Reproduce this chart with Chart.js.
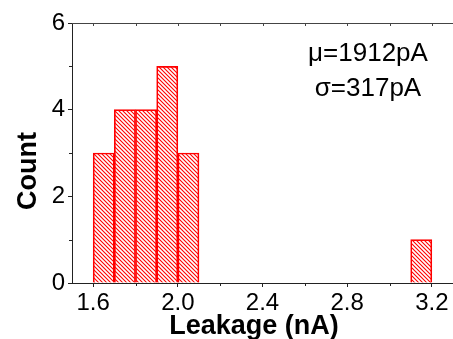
<!DOCTYPE html>
<html>
<head>
<meta charset="utf-8">
<script src="https://cdn.jsdelivr.net/npm/chart.js@4.4.1/dist/chart.umd.min.js"></script>
<style>
  html, body { margin: 0; padding: 0; background: #fff; }
  #wrap { width: 453px; height: 339px; }
</style>
</head>
<body>
<div id="wrap"><canvas id="histChart" width="453" height="339"></canvas></div>
<script>
'use strict';

// Histogram bins (nA) and counts
const binLow = [1.6, 1.7, 1.8, 1.9, 2.0, 3.1];
const binHigh = [1.7, 1.8, 1.9, 2.0, 2.1, 3.2];
const counts = [3, 4, 4, 5, 3, 1];

const xTicks = [1.6, 2.0, 2.4, 2.8, 3.2];
const xMinorTicks = [1.8, 2.2, 2.6, 3.0];
const yTicks = [0, 2, 4, 6];
const yMinorTicks = [1, 3, 5];

const statsLines = ['\u03bc=1912pA', '\u03c3=317pA'];
const xTitle = 'Leakage (nA)';
const yTitle = 'Count';

const FONT = "'Liberation Sans', Arial, sans-serif";

// red diagonal hatch
function makeHatch() {
	const c = document.createElement('canvas');
	c.width = 4;
	c.height = 4;
	const g = c.getContext('2d');
	g.strokeStyle = '#ff0000';
	g.lineWidth = 1.1;
	g.beginPath();
	g.moveTo(-1, -1); g.lineTo(5, 5);
	g.moveTo(-1, 3); g.lineTo(1, 5);
	g.moveTo(3, -1); g.lineTo(5, 1);
	g.stroke();
	return g.createPattern(c, 'repeat');
}

let points = [];
for (let i = 0; i < counts.length; ++i) {
	points.push({ x: (binLow[i] + binHigh[i]) / 2, y: counts[i] });
}

const extras = {
	id: 'extras',
	afterDraw(chart) {
		const ctx = chart.ctx;
		const xs = chart.scales.x;
		const ys = chart.scales.y;
		const top = Math.round(ys.getPixelForValue(6));
		const bottom = Math.round(ys.getPixelForValue(0));
		const left = Math.round(xs.getPixelForValue(1.5));
		ctx.save();
		ctx.fillStyle = '#222';

		// minor ticks
		xMinorTicks.forEach(v => {
			const px = Math.round(xs.getPixelForValue(v));
			ctx.fillRect(px, bottom, 1, 3);
		});
		yMinorTicks.forEach(v => {
			const py = Math.round(ys.getPixelForValue(v));
			ctx.fillRect(left - 3, py, 3, 1);
		});

		// top frame with inward ticks
		ctx.fillStyle = '#444';
		ctx.fillRect(left, top, chart.width - left, 1);
		xTicks.concat(xMinorTicks).forEach(v => {
			const px = Math.round(xs.getPixelForValue(v));
			ctx.fillRect(px, top, 1, 3);
		});

		// stats text
		ctx.fillStyle = '#000';
		ctx.font = '26px ' + FONT;
		ctx.textAlign = 'center';
		ctx.textBaseline = 'alphabetic';
		ctx.fillText(statsLines[0], 368, 61);
		ctx.fillText(statsLines[1], 368, 96);

		// axis titles
		ctx.font = 'bold 27px ' + FONT;
		ctx.fillText(xTitle, 254, 334);
		ctx.translate(36, 171);
		ctx.rotate(-Math.PI / 2);
		ctx.fillText(yTitle, 0, 0);
		ctx.restore();
	}
};

const histChart = new Chart(document.getElementById('histChart'), {
	type: 'bar',
	data: {
		datasets: [
			{
				data: points,
				backgroundColor: makeHatch(),
				borderColor: '#ff0000',
				borderWidth: 1,
				barPercentage: 1,
				categoryPercentage: 1
			}
		]
	},
	options: {
		responsive: false,
		animation: false,
		layout: { padding: { top: 23, right: 0, left: 0, bottom: 0 } },
		plugins: { legend: { display: false }, tooltip: { enabled: false } },
		scales: {
			x: {
				type: 'linear',
				min: 1.5,
				max: 3.3,
				offset: false,
				afterBuildTicks: (s) => { s.ticks = xTicks.map(v => ({ value: v })); },
				afterFit: (s) => { s.height = 56; },
				grid: { offset: false, drawOnChartArea: false, tickLength: 4, color: '#222' },
				border: { color: '#222', width: 1 },
				ticks: {
					color: '#000',
					font: { family: FONT, size: 24 },
					padding: 2,
					maxRotation: 0,
					callback: (v) => v.toFixed(1)
				}
			},
			y: {
				min: 0,
				max: 6,
				afterBuildTicks: (s) => { s.ticks = yTicks.map(v => ({ value: v })); },
				afterFit: (s) => { s.width = 72; },
				grid: { drawOnChartArea: false, tickLength: 4, color: '#222' },
				border: { color: '#222', width: 1 },
				ticks: {
					color: '#000',
					font: { family: FONT, size: 24 },
					padding: 3
				}
			}
		}
	},
	plugins: [extras]
});
</script>
</body>
</html>
